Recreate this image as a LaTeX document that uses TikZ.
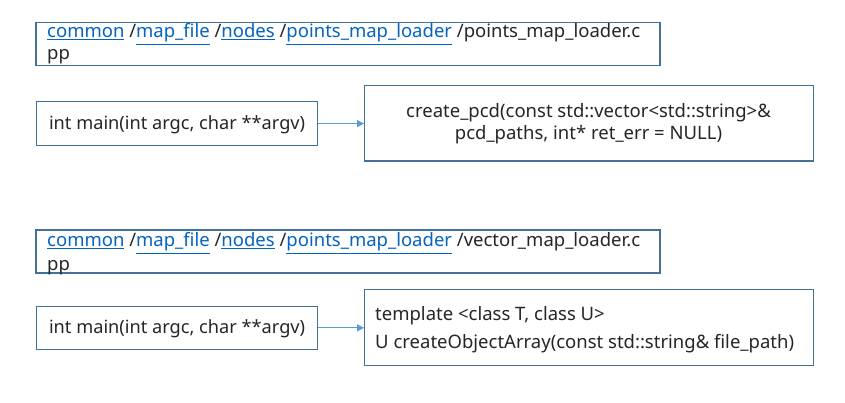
\documentclass[tikz,border=0pt]{standalone}
\usepackage{fontspec}
\setmainfont{Noto Sans}
\usetikzlibrary{arrows.meta,calc}
\definecolor{boxc}{HTML}{41719C}
\definecolor{linkc}{HTML}{0563C1}
\definecolor{arrc}{HTML}{5B9BD5}
\newcommand{\lnk}[1]{\textcolor{linkc}{\underline{#1}}}
\begin{document}
\begin{tikzpicture}[x=1pt,y=-1pt,
  frame/.style={draw=boxc,line width=1.2pt},
  txt/.style={font=\fontsize{18.5}{21}\selectfont,text=black!85,inner sep=0pt},
  conn/.style={draw=arrc,line width=1pt,-{Triangle[length=7pt,width=7pt]}}]
\useasboundingbox[fill=white] (0,0) rectangle (845,403);
% group 1
\draw[frame] (36,22.5) rectangle (660,65.5);
\node[txt,anchor=base west] (p1a) at (47,38) {\lnk{common} /\lnk{map\_file} /\lnk{nodes} /\lnk{points\_map\_loader} /points\_map\_loader.c};
\node[txt,anchor=base west] (p1b) at (47,60) {pp};
\node[frame,minimum width=281pt,minimum height=44pt,anchor=north west,inner sep=0pt] (m1) at (36,101) {};
\node[txt,font=\fontsize{18.2}{21}\selectfont,anchor=base] (m1t) at ($(m1.center)+(0,5.5)$) {int main(int argc, char **argv)};
\node[frame,minimum width=449pt,minimum height=75.5pt,anchor=north west,inner sep=0pt] (c1) at (364,85) {};
\node[txt,anchor=base] (c1a) at (588.5,118) {create\_pcd(const std::vector<std::string>\&};
\node[txt,anchor=base] (c1b) at (588.5,140) {pcd\_paths, int* ret\_err = NULL)};
\draw[conn] (m1.east) -- (m1.east -| c1.west);
% group 2
\draw[frame] (36,230) rectangle (660,273);
\node[txt,anchor=base west] (p2a) at (47,247) {\lnk{common} /\lnk{map\_file} /\lnk{nodes} /\lnk{points\_map\_loader} /vector\_map\_loader.c};
\node[txt,anchor=base west] (p2b) at (47,270) {pp};
\node[frame,minimum width=281pt,minimum height=43.5pt,anchor=north west,inner sep=0pt] (m2) at (36,305.5) {};
\node[txt,font=\fontsize{18.2}{21}\selectfont,anchor=base] (m2t) at ($(m2.center)+(0,5.5)$) {int main(int argc, char **argv)};
\node[frame,minimum width=449pt,minimum height=76pt,anchor=north west,inner sep=0pt] (c2) at (364,289) {};
\node[txt,anchor=base west] (c2a) at (375,320) {template <class T, class U>};
\node[txt,anchor=base west] (c2b) at (375,348) {U createObjectArray(const std::string\& file\_path)};
\draw[conn] (m2.east) -- (m2.east -| c2.west);
\end{tikzpicture}
\end{document}
